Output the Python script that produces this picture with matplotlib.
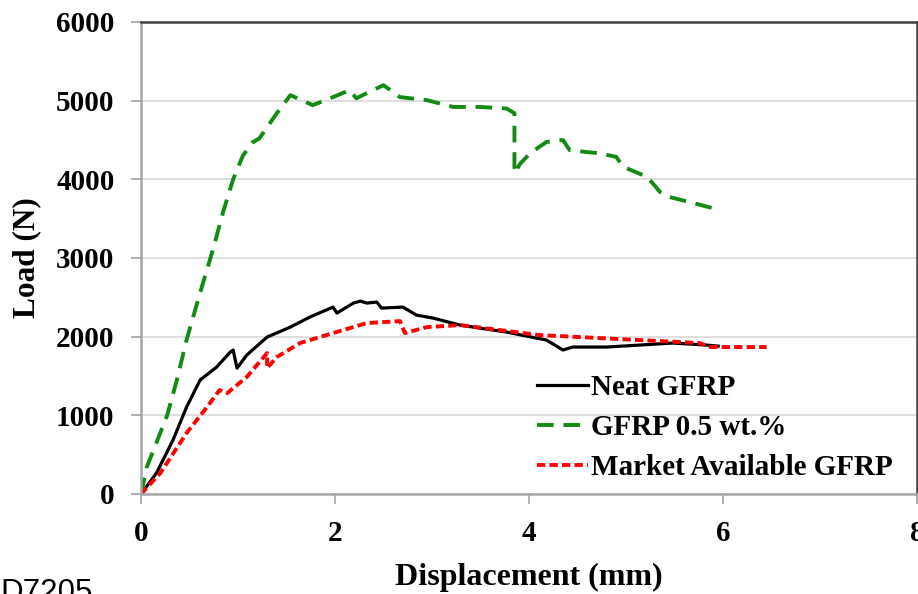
# libraries
import matplotlib
matplotlib.use("Agg")
import matplotlib.pyplot as plt

# data (displacement in mm, load in N)
neat_x = [0, 0.16, 0.33, 0.47, 0.61, 0.78, 0.92, 0.95, 0.99, 1.09, 1.30, 1.54, 1.74,
          1.98, 2.02, 2.19, 2.26, 2.33, 2.43, 2.48, 2.70, 2.84, 3.01, 3.29, 3.77,
          4.18, 4.35, 4.45, 4.80, 5.48, 5.83, 5.95]
neat_y = [0, 267, 686, 1105, 1450, 1614, 1804, 1830, 1600, 1766, 1995, 2122, 2249,
          2376, 2300, 2427, 2452, 2427, 2440, 2363, 2376, 2274, 2236, 2147, 2058,
          1957, 1830, 1868, 1868, 1919, 1893, 1880]

nano_x = [0, 0.06, 0.27, 0.37, 0.47, 0.61, 0.74, 0.85, 0.95, 1.05, 1.15, 1.22, 1.40,
          1.54, 1.77, 1.98, 2.15, 2.22, 2.39, 2.50, 2.67, 2.95, 3.22, 3.49, 3.77,
          3.85, 3.85, 3.91, 4.01, 4.18, 4.35, 4.42, 4.73, 4.90, 4.97, 5.22, 5.35,
          5.45, 5.69, 5.97]
nano_y = [0, 343, 1000, 1450, 1960, 2560, 3100, 3600, 4000, 4300, 4470, 4520, 4840,
          5070, 4943, 5045, 5133, 5030, 5133, 5197, 5045, 5006, 4920, 4920, 4900,
          4840, 4080, 4200, 4330, 4475, 4500, 4370, 4330, 4285, 4160, 4030, 3840,
          3775, 3700, 3610]

market_x = [0, 0.20, 0.47, 0.68, 0.81, 0.89, 1.09, 1.30, 1.30, 1.40, 1.64, 1.98,
            2.33, 2.67, 2.72, 2.95, 3.29, 4.11, 5.14, 5.76, 5.87, 6.45]
market_y = [0, 267, 775, 1105, 1321, 1283, 1487, 1792, 1600, 1741, 1919, 2046,
            2173, 2198, 2046, 2122, 2147, 2020, 1957, 1919, 1868, 1868]

labels = ['Neat GFRP', 'GFRP 0.5 wt.%', 'Market Available GFRP']
x_ticks = [0, 2, 4, 6, 8]
y_ticks = [0, 1000, 2000, 3000, 4000, 5000, 6000]

plt.rcParams['font.family'] = ['Liberation Serif', 'DejaVu Serif']
plt.rcParams['font.weight'] = 'bold'
plt.rcParams['lines.scale_dashes'] = False

fig = plt.figure(figsize=(9.18, 5.94), dpi=100)
ax = fig.add_axes([141 / 918, 1 - 494 / 594, 776 / 918, 472 / 594])

ax.plot(neat_x, neat_y, color='black', lw=2.3, label=labels[0])
ax.plot(nano_x, nano_y, color='#138a13', lw=2.8, dashes=(12, 7), label=labels[1])
ax.plot(market_x, market_y, color='#ff0000', lw=2.8, dashes=(6, 3), label=labels[2])

ax.set_xlim(0, 8)
ax.set_ylim(0, 6000)
ax.set_xticks(x_ticks)
ax.set_yticks(y_ticks)
ax.grid(axis='y', color='#d9d9d9', lw=1.2)
ax.set_axisbelow(True)

for side in ['left', 'bottom']:
    ax.spines[side].set_color('#a6a6a6')
    ax.spines[side].set_linewidth(1.8)
for side in ['top', 'right']:
    ax.spines[side].set_color('#404040')
    ax.spines[side].set_linewidth(1.8)

ax.tick_params(axis='both', direction='out', length=7, width=1.2, color='#a6a6a6',
               labelsize=21, pad=12)
for t in ax.get_xticklabels() + ax.get_yticklabels():
    t.set_fontweight('bold')

ax.set_xlabel('Displacement (mm)', fontsize=23, fontweight='bold')
ax.set_ylabel('Load (N)', fontsize=22.5, fontweight='bold')
ax.xaxis.set_label_coords(0.5, -0.145)
ax.yaxis.set_label_coords(-0.128, 0.5)

ax.legend(loc='upper left', bbox_to_anchor=(0.51, 0.254), frameon=False,
          handlelength=1.75, handletextpad=0.1, labelspacing=0.45,
          borderpad=0, borderaxespad=0, prop={'weight': 'bold', 'size': 21})

fig.text(0.0, -0.011, 'D7205', fontsize=22.5, family='Liberation Sans',
         fontweight='normal', ha='left', va='baseline')

fig.savefig('out.png', dpi=100)
